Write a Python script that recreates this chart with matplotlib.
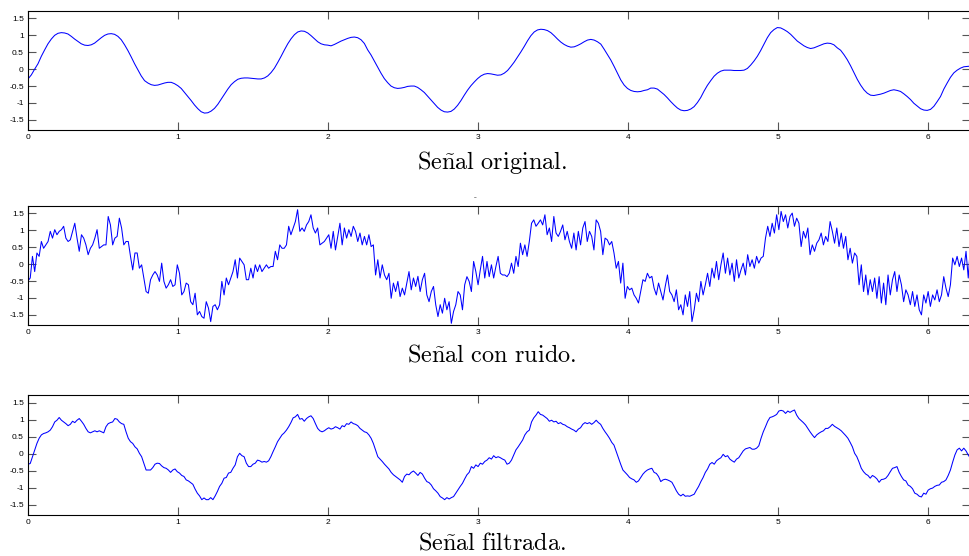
import numpy as np
import matplotlib
matplotlib.use('Agg')
import matplotlib.pyplot as plt

plt.rcParams['mathtext.fontset'] = 'cm'
plt.rcParams['font.family'] = ['Liberation Sans', 'DejaVu Sans']

# Original signal, evenly sampled over [0, 2*pi]
original = [
    -0.29, -0.17, 0.00, 0.16, 0.38, 0.57, 0.75, 0.89, 1.00, 1.06,
    1.08, 1.07, 1.04, 0.97, 0.89, 0.82, 0.75, 0.71, 0.70, 0.72,
    0.77, 0.85, 0.93, 1.00, 1.04, 1.05, 1.03, 0.97, 0.87, 0.72,
    0.55, 0.36, 0.16, -0.02, -0.20, -0.34, -0.41, -0.46, -0.48, -0.47,
    -0.44, -0.41, -0.39, -0.39, -0.43, -0.49, -0.57, -0.69, -0.81, -0.93,
    -1.06, -1.17, -1.26, -1.30, -1.29, -1.24, -1.16, -1.04, -0.89, -0.74,
    -0.59, -0.46, -0.37, -0.30, -0.27, -0.26, -0.26, -0.27, -0.28, -0.29,
    -0.29, -0.26, -0.20, -0.10, 0.03, 0.20, 0.38, 0.57, 0.75, 0.90,
    1.02, 1.10, 1.13, 1.12, 1.07, 0.99, 0.90, 0.81, 0.75, 0.72,
    0.71,
    0.69, 0.73, 0.78, 0.83, 0.87, 0.91, 0.94, 0.95, 0.93, 0.87,
    0.76, 0.57, 0.42, 0.24, 0.06, -0.12, -0.28, -0.40, -0.50, -0.55,
    -0.57, -0.56, -0.54, -0.51, -0.50, -0.50, -0.54, -0.61, -0.69, -0.80,
    -0.91, -1.02, -1.13, -1.21, -1.26, -1.27, -1.25, -1.18, -1.07, -0.93,
    -0.77, -0.62, -0.49, -0.38, -0.28, -0.20, -0.15, -0.13, -0.14, -0.16,
    -0.18, -0.17, -0.12, -0.04, 0.08, 0.21, 0.36, 0.51, 0.67, 0.84,
    0.99, 1.10, 1.16, 1.18, 1.17, 1.14, 1.08, 0.99, 0.89, 0.80,
    0.73, 0.68, 0.65, 0.66, 0.70, 0.75, 0.81, 0.86, 0.88, 0.86,
    0.81, 0.74, 0.59, 0.43, 0.27, 0.08, -0.12, -0.32, -0.47, -0.57,
    -0.63, -0.66, -0.67, -0.66, -0.63, -0.61,
    -0.56, -0.56, -0.59, -0.67, -0.75, -0.85, -0.96, -1.06, -1.15, -1.21,
    -1.23, -1.22, -1.18, -1.11, -0.99, -0.84, -0.65, -0.48, -0.34, -0.21,
    -0.12, -0.06, -0.03, -0.03, -0.03, -0.04, -0.04, -0.04, -0.03, 0.02,
    0.12, 0.24, 0.38, 0.55, 0.74, 0.93, 1.08, 1.17, 1.23, 1.22,
    1.17, 1.11, 1.03, 0.93, 0.83, 0.76, 0.69, 0.64, 0.61, 0.63,
    0.67, 0.71, 0.75, 0.77, 0.76, 0.72, 0.63, 0.56, 0.43, 0.28,
    0.10, -0.10, -0.30, -0.47, -0.61, -0.71, -0.77, -0.78, -0.76, -0.74,
    -0.71, -0.67, -0.63, -0.61, -0.63, -0.66, -0.73, -0.81, -0.90, -1.01,
    -1.09, -1.17, -1.21, -1.22, -1.19, -1.10, -0.96, -0.81, -0.59, -0.41,
    -0.24, -0.11, -0.03, 0.03, 0.07, 0.08, 0.09]

# Noisy signal, evenly sampled over [0, 2*pi]
noisy = [
    -0.49, -0.41, 0.23, -0.22, 0.33, 0.23, 0.67, 0.47, 0.57, 0.67,
    0.97, 0.77, 1.02, 0.87, 0.97, 1.02, 1.12, 0.77, 0.67, 0.72,
    0.97, 1.21, 0.77, 0.38, 0.87, 0.77, 0.57, 0.28, 0.47, 0.57,
    0.77, 1.02, 0.47, 0.52, 0.57, 0.57, 1.41, 1.16, 0.57, 0.77,
    0.82, 1.36, 1.07, 0.57, 0.67, 0.67, 0.23, -0.17, 0.33, 0.33,
    -0.12, -0.02, -0.41, -0.81, -0.86, -0.46, -0.32, -0.22, -0.32, -0.51,
    0.03, -0.51, -0.71, -0.61, -0.46, -0.66, -0.61, -0.02, -0.27, -0.91,
    -0.81, -0.56, -0.61, -1.11, -1.20, -0.86, -1.50, -1.40, -1.55, -1.60,
    -1.11, -1.30, -1.70, -1.25, -1.20, -1.35, -1.20, -0.51, -0.91, -0.41,
    -0.61, -0.41, -0.22, 0.13, -0.41, 0.18, 0.08, -0.02, -0.46, -0.46,
    -0.12, -0.41, -0.02, -0.22, -0.02, -0.22, -0.12, -0.02, -0.12, -0.07,
    -0.07, 0.38, 0.13, 0.57, 0.47, 0.47, 0.57, 1.12, 0.87, 1.07,
    1.26, 1.61, 0.97, 1.07, 0.97, 1.16, 1.26, 1.46, 1.07, 0.92,
    1.07, 0.57, 0.62, 0.67, 0.77,
    0.87, 0.47, 0.97, 0.42, 0.82, 1.21, 0.57, 1.07, 0.77, 1.02,
    0.82, 1.12, 0.97, 0.67, 0.92, 0.57, 0.82, 0.57, 0.87, 0.52,
    0.57, -0.32, 0.13, -0.41, -0.02, -0.32, -0.46, -0.27, -1.01, -0.56,
    -0.81, -0.51, -0.96, -0.71, -0.91, -0.56, -0.22, -0.76, -0.41, -0.66,
    -0.36, -0.81, -0.46, -0.27, -0.91, -1.11, -0.81, -0.66, -1.20, -1.55,
    -1.20, -1.45, -1.01, -1.35, -1.11, -1.75, -1.40, -1.20, -0.81, -0.91,
    -1.35, -0.61, -0.37, -0.51, -0.81, 0.08, -0.22, -0.61, -0.17, 0.23,
    -0.41, 0.08, -0.37, -0.02, -0.41, -0.07, 0.23, -0.27, -0.32, -0.32,
    -0.37, -0.27, 0.03, -0.27, 0.23, -0.07, 0.62, 0.28, 0.57, 0.23,
    0.67, 1.21, 1.31, 1.12, 1.21, 1.31, 1.16, 1.46, 0.87, 1.07,
    0.67, 1.41, 0.92, 0.82, 0.97, 1.16, 0.72, 0.97, 0.67, 0.47,
    0.92, 0.42, 0.97, 0.57, 1.07, 1.26, 0.67, 0.97, 0.82, 0.42,
    1.31, 1.21, 0.97, 0.28, 0.77, 0.72, 0.57, 0.67, 0.33, -0.12,
    0.08, -0.56, 0.03, -1.01, -0.66, -0.76,
    -0.71, -0.91, -1.01, -1.15, -0.81, -0.46, -0.51, -0.27, -0.41,
    -0.36, -0.71, -0.91, -0.56, -0.81, -1.06, -0.66, -0.32, -0.81, -0.91,
    -1.11, -0.76, -1.35, -1.20, -1.50, -0.91, -1.25, -0.81, -1.70, -1.35,
    -0.86, -1.11, -0.51, -0.91, -0.61, -0.27, -0.66, -0.12, -0.41, 0.08,
    -0.46, -0.02, 0.33, -0.27, 0.18, -0.32, 0.03, -0.51, 0.13, -0.41,
    -0.17, 0.03, -0.32, 0.28, -0.07, 0.13, -0.12, 0.23, 0.03, 0.18,
    0.23, 0.77, 1.12, 0.82, 1.21, 0.92, 1.46, 1.02, 1.56, 1.26,
    1.46, 1.07, 1.41, 1.51, 1.12, 1.36, 1.21, 0.52, 0.97, 0.77,
    1.07, 0.28, 0.57, 0.38, 0.62, 0.72, 0.92, 0.57, 0.82, 0.67,
    1.26, 0.97, 0.62, 1.07, 0.52, 0.92, 0.47, 0.82, 0.13, 0.47,
    0.03, 0.33, 0.23, -0.61, -0.02, -0.81, -0.32, -0.91, -0.46, -0.81,
    -0.41, -1.01, -0.37, -1.15, -0.56, -1.20, -0.32, -0.91, -0.46, -0.22,
    -0.81, -0.32, -0.61, -1.11, -0.76, -0.91, -1.20, -0.81, -1.25, -0.91,
    -1.35, -1.50, -0.91, -1.15, -0.81, -1.25, -0.91, -1.06, -0.76, -1.11,
    -0.91, -0.37, -0.71, -0.96, -0.61, 0.18, -0.02, 0.23, -0.07, 0.18,
    -0.17, 0.38, -0.41, 0.57]

# Filtered signal, evenly sampled over [0, 2*pi]
filtered = [
    -0.31, -0.29, -0.09, 0.11, 0.30, 0.45, 0.55, 0.59, 0.61, 0.64,
    0.69, 0.79, 0.93, 0.98, 1.06, 0.98, 0.93, 0.88, 0.82, 0.86,
    0.95, 0.91, 0.98, 1.03, 0.95, 0.86, 0.74, 0.64, 0.61, 0.64,
    0.67, 0.64, 0.67, 0.64, 0.61, 0.79, 0.88, 0.91, 0.93, 1.03,
    1.01, 0.93, 0.88, 0.86, 0.64, 0.45, 0.35, 0.30, 0.20, 0.14,
    0.01, -0.09, -0.28, -0.48, -0.48, -0.48, -0.41, -0.31, -0.28, -0.29,
    -0.36, -0.41, -0.43, -0.48, -0.55, -0.48, -0.45, -0.53, -0.57, -0.64,
    -0.67, -0.77, -0.80, -0.85, -0.90, -1.04, -1.16, -1.24, -1.35, -1.30,
    -1.35, -1.35, -1.29, -1.35, -1.24, -1.11, -0.96, -0.87, -0.72, -0.70,
    -0.57, -0.55, -0.43, -0.33, -0.09, 0.01, -0.06, -0.09, -0.28, -0.38,
    -0.38, -0.31, -0.28, -0.19, -0.21, -0.25, -0.23, -0.25, -0.21, -0.09,
    0.06, 0.20, 0.35, 0.45, 0.55, 0.61, 0.69, 0.79, 0.91, 1.05,
    1.08, 1.15, 1.01, 1.03, 0.95, 1.03, 1.08, 1.11, 1.03, 0.88,
    0.74, 0.67, 0.64, 0.67, 0.72, 0.76,
    0.72, 0.74, 0.79, 0.76, 0.72, 0.82, 0.79, 0.88, 0.86, 0.93,
    0.88, 0.86, 0.82, 0.74, 0.69, 0.64, 0.62, 0.55, 0.45, 0.30,
    0.11, -0.09, -0.16, -0.23, -0.31, -0.38, -0.45, -0.55, -0.62, -0.67,
    -0.72, -0.77, -0.84, -0.67, -0.60, -0.62, -0.55, -0.51, -0.57, -0.64,
    -0.55, -0.60, -0.72, -0.82, -0.85, -0.92, -1.03, -1.09, -1.16, -1.26,
    -1.30, -1.35, -1.29, -1.33, -1.29, -1.26, -1.16, -1.06, -0.96, -0.87,
    -0.74, -0.62, -0.55, -0.38, -0.43, -0.33, -0.38, -0.28, -0.31, -0.23,
    -0.19, -0.12, -0.16, -0.06, -0.12, -0.09, -0.12, -0.16, -0.19, -0.31,
    -0.28, -0.19, -0.04, 0.11, 0.20, 0.30, 0.40, 0.55, 0.64, 0.69,
    0.93, 1.05, 1.13, 1.23, 1.15, 1.13, 1.08, 1.03, 0.95, 0.98,
    0.93, 0.95, 0.88, 0.91, 0.86, 0.84, 0.79, 0.76, 0.72, 0.69,
    0.64, 0.72, 0.76, 0.86, 0.91, 0.88, 0.91, 0.86, 0.91, 0.98,
    0.91, 0.86, 0.74, 0.64, 0.55, 0.45, 0.33, 0.25, 0.06, -0.14,
    -0.31, -0.48, -0.55, -0.62, -0.70,
    -0.74, -0.77, -0.84, -0.80, -0.70, -0.60, -0.53, -0.48, -0.45, -0.43,
    -0.55, -0.58, -0.67, -0.82, -0.77, -0.75, -0.77, -0.80, -0.84, -0.96,
    -1.09, -1.19, -1.24, -1.19, -1.25, -1.24, -1.25, -1.22, -1.19, -1.07,
    -0.96, -0.82, -0.70, -0.55, -0.45, -0.31, -0.26, -0.31, -0.21, -0.16,
    -0.12, -0.02, -0.09, -0.06, -0.16, -0.21, -0.25, -0.16, -0.12, -0.02,
    0.08, 0.14, 0.16, 0.18, 0.13, 0.13, 0.16, 0.23, 0.45, 0.64,
    0.79, 0.95, 1.06, 1.08, 1.11, 1.15, 1.25, 1.27, 1.25, 1.18,
    1.25, 1.21, 1.25, 1.28, 1.13, 1.03, 0.97, 0.91, 0.84, 0.74,
    0.64, 0.55, 0.47, 0.55, 0.60, 0.64, 0.67, 0.74, 0.74, 0.79,
    0.86, 0.80, 0.76, 0.72, 0.67, 0.60, 0.53, 0.45, 0.33, 0.20,
    0.01, -0.09, -0.25, -0.43, -0.53, -0.60, -0.64, -0.72, -0.64, -0.68,
    -0.74, -0.84, -0.76, -0.75, -0.72, -0.64, -0.53, -0.43, -0.41, -0.38,
    -0.55, -0.67, -0.77, -0.80, -0.92, -0.96, -1.03, -1.16, -1.19, -1.25,
    -1.27, -1.16, -1.19, -1.07, -1.03, -1.01, -0.96, -0.93, -0.92, -0.84,
    -0.82, -0.77, -0.64, -0.48, -0.25, -0.04, 0.11, 0.16, 0.08, 0.16,
    0.08, -0.04, -0.14]

captions = [r'$\mathrm{Se\tilde{n}al\ original.}$',
            r'$\mathrm{Se\tilde{n}al\ con\ ruido.}$',
            r'$\mathrm{Se\tilde{n}al\ filtrada.}$']
xticks = [0, 1, 2, 3, 4, 5, 6]
yticks = [-1.5, -1, -0.5, 0, 0.5, 1, 1.5]
ytick_labels = ['-1.5', '-1', '-0.5', '0', '0.5', '1', '1.5']

t_orig = np.linspace(0, 2 * np.pi, len(original))
t_noisy = np.linspace(0, 2 * np.pi, len(noisy))
t_filt = np.linspace(0, 2 * np.pi, len(filtered))

fig = plt.figure(figsize=(9.70, 5.56), dpi=100)

W, H = 970.0, 556.0
left = 28 / W
width = 2 * np.pi * 150 / W
# (top, bottom) of each panel in pixels
boxes = [(11, 130), (206, 325), (395, 515)]
series = [(t_orig, original), (t_noisy, noisy), (t_filt, filtered)]
caption_y = [162, 356, 543]

for (top, bot), (tx, ys), cap, cy in zip(boxes, series, captions, caption_y):
    ax = fig.add_axes([left, 1 - bot / H, width, (bot - top) / H])
    ax.plot(tx, ys, color='#0000ff', linewidth=0.75)
    ax.set_xlim(0, 2 * np.pi)
    ax.set_ylim(-1.8, 1.72)
    ax.set_xticks(xticks)
    ax.set_xticklabels([str(v) for v in xticks])
    ax.set_yticks(yticks)
    ax.set_yticklabels(ytick_labels)
    ax.tick_params(direction='in', length=6, width=0.8, color='#555555',
                   labelsize=6, pad=3, top=True, right=True)
    for s in ax.spines.values():
        s.set_linewidth(0.8)
    fig.text(492 / W, 1 - cy / H, cap, ha='center', va='center', fontsize=17.5)

fig.text(475 / W, 1 - 201 / H, '\u02c7', ha='center', va='center',
         fontsize=6, color='#444444')

fig.savefig('out.png', dpi=100)
